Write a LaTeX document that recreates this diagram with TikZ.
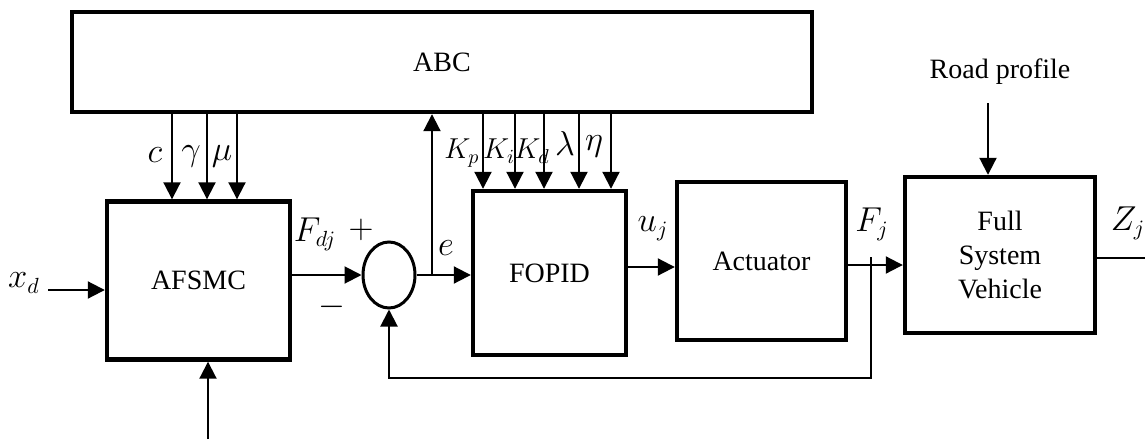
\documentclass[tikz,border=0pt]{standalone}
\usepackage{fontspec}
\setmainfont{Liberation Serif}
\usetikzlibrary{arrows.meta,shapes.geometric}
\begin{document}
\begin{tikzpicture}[
    x=0.5pt, y=-0.5pt,
    box/.style={draw, line width=2.2pt, align=center,
                font=\fontsize{14}{17}\selectfont},
    sumnode/.style={draw, ellipse, line width=1.5pt, minimum width=26pt,
                    minimum height=33pt, inner sep=0pt},
    arr/.style={-{Triangle[length=8.5pt,width=8.5pt]}, line width=1pt},
    ln/.style={line width=1pt},
    lbl/.style={font=\fontsize{16}{19}\selectfont, inner sep=0pt},
    klbl/.style={font=\fontsize{14.5}{17}\selectfont, inner sep=0pt}
]
  \useasboundingbox (0,0) rectangle (1145,439);

  % ABC box
  \node[box, minimum width=370pt, minimum height=50pt] (abc) at (442,62) {ABC};

  % AFSMC
  \node[box, minimum width=91.5pt, minimum height=79pt] (afsmc) at (198.5,280.5) {AFSMC};
  \foreach \x in {172,207,237}
    \draw[arr] (\x,0 |- abc.south) -- (\x,0 |- afsmc.north);
  \node[lbl] (lc) at (155,155) {$c$};
  \node[lbl] (lgamma) at (191,156) {$\gamma$};
  \node[lbl] (lmu) at (222,156) {$\mu$};

  \coordinate (xdin) at (48,290);
  \draw[arr] (xdin) -- (xdin -| afsmc.west);
  \node[lbl] (lxd) at (24,283) {$x_d$};
  \coordinate (bin) at (208,439);
  \draw[arr] (bin) -- (bin |- afsmc.south);

  % Summing junction
  \node[sumnode] (sum) at (389,275) {};
  \draw[arr] (afsmc.east |- sum.west) -- (sum.west);
  \node[lbl] (lfd) at (315,234) {$F_{dj}$};
  \node[lbl] (lplus) at (361,230) {$+$};
  \node[lbl] (lminus) at (332,307) {$-$};

  % FOPID
  \node[box, minimum width=76.5pt, minimum height=82pt] (fopid) at (549.5,273) {FOPID};
  \draw[arr] (sum.east) -- (sum.east -| fopid.west);
  \coordinate (eb) at (432,275);
  \draw[arr] (eb) -- (eb |- abc.south);
  \node[lbl] (le) at (446,248) {$e$};
  \foreach \x in {483,515,544,579,611}
    \draw[arr] (\x,0 |- abc.south) -- (\x,0 |- fopid.north);
  \node[klbl] (lkp) at (462,153) {$K_p$};
  \node[klbl] (lki) at (499,151) {$K_i$};
  \node[klbl] (lkd) at (532,151) {$K_d$};
  \node[lbl] (llambda) at (565,143) {$\lambda$};
  \node[lbl] (leta) at (594,146) {$\eta$};

  % Actuator
  \node[box, minimum width=84.5pt, minimum height=79pt] (act) at (761.5,261) {Actuator};
  \draw[arr] ([yshift=3pt]fopid.east) -- ([yshift=3pt]fopid.east -| act.west);
  \node[lbl] (luj) at (653,229) {$u_j$};

  % Full system vehicle
  \node[box, minimum width=95pt, minimum height=78pt] (full) at (1000,255)
       {Full\\System\\Vehicle};
  \draw[arr] ([yshift=-2pt]act.east) -- ([yshift=-2pt]act.east -| full.west);
  \node[lbl] (lfj) at (872,224) {$F_j$};
  \coordinate (fb) at (871,257);
  \draw[arr] (fb) -- (fb |- 0,378) -| (sum.south);

  \node[lbl] (road) at (1000,72) {\fontsize{14}{17}\selectfont Road profile};
  \coordinate (rp) at (988,103);
  \draw[arr] (rp) -- (rp |- full.north);

  \coordinate (zout) at (1145,258);
  \draw[ln] (full.east |- zout) -- (zout);
  \node[lbl] (lzj) at (1128,223) {$Z_j$};
\end{tikzpicture}
\end{document}
